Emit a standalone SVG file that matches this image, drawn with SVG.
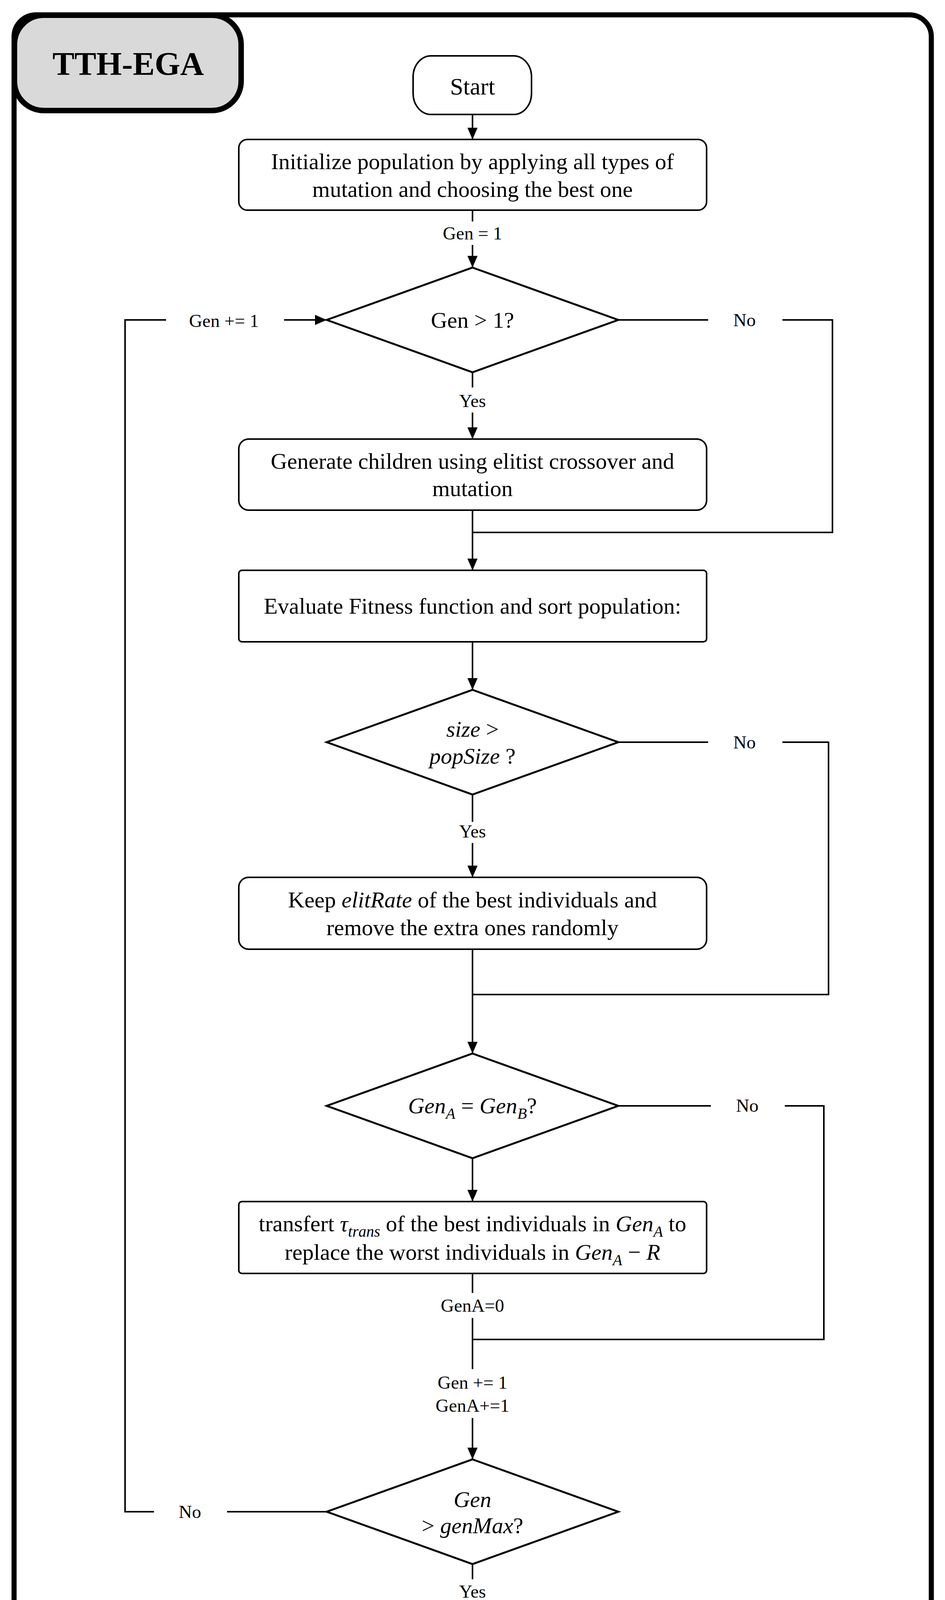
<svg xmlns="http://www.w3.org/2000/svg" width="2418" height="4405" viewBox="0 0 2418 4405">
<style>
.box{fill:#fff;stroke:#000;stroke-width:4}
.dia{fill:#fff;stroke:#000;stroke-width:5}
.conn{fill:none;stroke:#000;stroke-width:4}
.arr{fill:none;stroke:#000;stroke-width:4;marker-end:url(#ah)}
.t{font-family:"Liberation Serif","Times New Roman",serif;font-size:58px;text-anchor:middle;fill:#000}
.title{font-size:84px;font-weight:bold}
.lbl{font-size:47px}
.se{font-size:61px}
.m{font-style:italic}
.sub{font-size:40px}
</style>
<defs>
<marker id="ah" markerUnits="userSpaceOnUse" markerWidth="30" markerHeight="26" refX="30" refY="13" orient="auto">
<path d="M0,0 L30,13 L0,26 z" fill="#000"/>
</marker>
</defs>
<rect x="0" y="0" width="2418" height="4405" fill="#fff"/>
<g id="frame">
<rect x="36" y="38" width="2347" height="4334" rx="56" ry="56" fill="#fff" stroke="#000" stroke-width="13"/>
</g>
<g id="title">
<rect x="37" y="39" width="580" height="244" rx="75" ry="75" fill="#d9d9d9" stroke="#000" stroke-width="14"/>
<text class="t title" x="328" y="192">TTH-EGA</text>
</g>
<g id="connectors">
<line class="arr" x1="1209" y1="293" x2="1209" y2="357"/>
<line class="conn" x1="1209" y1="538" x2="1209" y2="567"/>
<line class="arr" x1="1209" y1="627" x2="1209" y2="685"/>
<line class="conn" x1="1209" y1="953" x2="1209" y2="992"/>
<line class="arr" x1="1209" y1="1056" x2="1209" y2="1124"/>
<polyline class="conn" points="1582,819 1812,819"/>
<polyline class="conn" points="2002,819 2130,819 2130,1363 1209,1363"/>
<line class="arr" x1="1209" y1="1306" x2="1209" y2="1460"/>
<line class="arr" x1="1209" y1="1643" x2="1209" y2="1766"/>
<polyline class="conn" points="1582,1900 1812,1900"/>
<polyline class="conn" points="2002,1900 2120,1900 2120,2546 1209,2546"/>
<line class="conn" x1="1209" y1="2034" x2="1209" y2="2104"/>
<line class="arr" x1="1209" y1="2158" x2="1209" y2="2246"/>
<line class="arr" x1="1209" y1="2430" x2="1209" y2="2697"/>
<polyline class="conn" points="1582,2831 1819,2831"/>
<polyline class="conn" points="2008,2831 2108,2831 2108,3429 1209,3429"/>
<line class="arr" x1="1209" y1="2965" x2="1209" y2="3076"/>
<line class="conn" x1="1209" y1="3260" x2="1209" y2="3310"/>
<line class="conn" x1="1209" y1="3374" x2="1209" y2="3505"/>
<line class="arr" x1="1209" y1="3630" x2="1209" y2="3736"/>
<line class="conn" x1="836" y1="3870" x2="581" y2="3870"/>
<polyline class="conn" points="394,3870 320,3870 320,819 425,819"/>
<line class="arr" x1="727" y1="819" x2="836" y2="819"/>
<line class="conn" x1="1209" y1="4004" x2="1209" y2="4043"/>
<line class="arr" x1="1209" y1="4104" x2="1209" y2="4173"/>
<text class="t lbl" x="1209" y="613">Gen = 1</text>
<text class="t lbl" x="573" y="837">Gen += 1</text>
<text class="t lbl" x="1905" y="835">No</text>
<text class="t lbl" x="1209" y="1042">Yes</text>
<text class="t lbl" x="1905" y="1916">No</text>
<text class="t lbl" x="1209" y="2144">Yes</text>
<text class="t lbl" x="1912" y="2846">No</text>
<text class="t lbl" x="1209" y="3358">GenA=0</text>
<text class="t lbl" x="1209" y="3555">Gen += 1</text>
<text class="t lbl" x="1209" y="3614">GenA+=1</text>
<text class="t lbl" x="486" y="3886">No</text>
<text class="t lbl" x="1209" y="4090">Yes</text>
</g>
<g id="start">
<rect class="box" x="1057" y="143" width="303" height="150" rx="46" ry="54"/>
<text class="t se" x="1209" y="242">Start</text>
</g>
<g id="init">
<rect class="box" x="611" y="357" width="1197" height="181" rx="22"/>
<text class="t" x="1209" y="433">Initialize population by applying all types of</text>
<text class="t" x="1209" y="504">mutation and choosing the best one</text>
</g>
<g id="dec-gen1">
<polygon class="dia" points="1209,685 1582,819 1209,953 836,819"/>
<text class="t" x="1209" y="839">Gen &gt; 1?</text>
</g>
<g id="generate">
<rect class="box" x="611" y="1124" width="1197" height="182" rx="25"/>
<text class="t" x="1209" y="1200">Generate children using elitist crossover and</text>
<text class="t" x="1209" y="1270">mutation</text>
</g>
<g id="evaluate">
<rect class="box" x="611" y="1460" width="1197" height="183" rx="8"/>
<text class="t" x="1209" y="1571">Evaluate Fitness function and sort population:</text>
</g>
<g id="dec-size">
<polygon class="dia" points="1209,1766 1582,1900 1209,2034 836,1900"/>
<text class="t" x="1209" y="1886"><tspan class="m">size</tspan> &gt;</text>
<text class="t" x="1209" y="1955"><tspan class="m">popSize</tspan> ?</text>
</g>
<g id="keep">
<rect class="box" x="611" y="2246" width="1197" height="184" rx="25"/>
<text class="t" x="1209" y="2323">Keep <tspan class="m">elitRate</tspan> of the best individuals and</text>
<text class="t" x="1209" y="2394">remove the extra ones randomly</text>
</g>
<g id="dec-genab">
<polygon class="dia" points="1209,2697 1582,2831 1209,2965 836,2831"/>
<text class="t" x="1209" y="2850"><tspan class="m">Gen</tspan><tspan class="m sub" dy="14">A</tspan><tspan dy="-14"> = </tspan><tspan class="m">Gen</tspan><tspan class="m sub" dy="14">B</tspan><tspan dy="-14">?</tspan></text>
</g>
<g id="transfer">
<rect class="box" x="611" y="3076" width="1197" height="184" rx="8"/>
<text class="t" x="1209" y="3152">transfert <tspan class="m">τ</tspan><tspan class="m sub" dy="14">trans</tspan><tspan dy="-14"> of the best individuals in </tspan><tspan class="m">Gen</tspan><tspan class="m sub" dy="14">A</tspan><tspan dy="-14"> to</tspan></text>
<text class="t" x="1209" y="3225">replace the worst individuals in <tspan class="m">Gen</tspan><tspan class="m sub" dy="14">A</tspan><tspan dy="-14"> − </tspan><tspan class="m">R</tspan></text>
</g>
<g id="dec-genmax">
<polygon class="dia" points="1209,3736 1582,3870 1209,4004 836,3870"/>
<text class="t" x="1209" y="3858"><tspan class="m">Gen</tspan></text>
<text class="t" x="1209" y="3925">&gt; <tspan class="m">genMax</tspan>?</text>
</g>
<g id="end">
<rect class="box" x="1057" y="4173" width="303" height="153" rx="46" ry="54"/>
<text class="t se" x="1209" y="4272">End</text>
</g>
</svg>
